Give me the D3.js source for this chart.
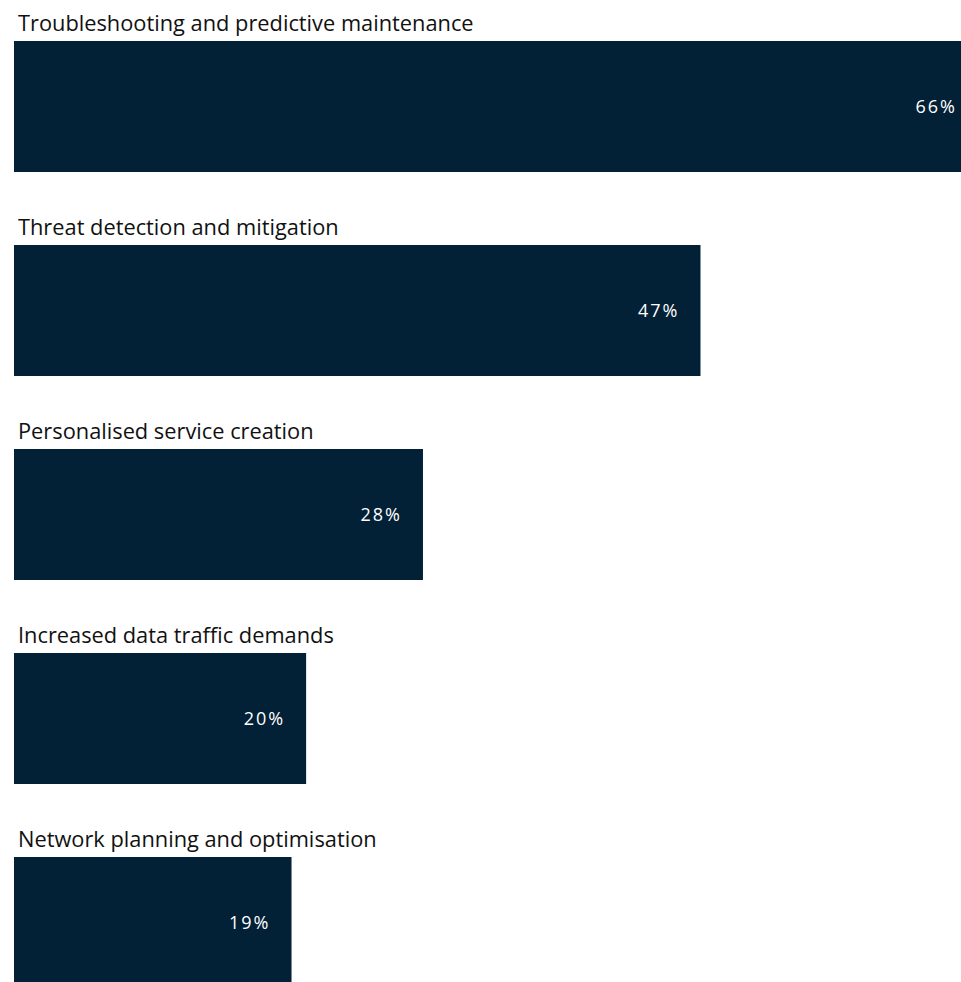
<!DOCTYPE html>
<html>
<head>
<meta charset="utf-8">
<script src="https://cdn.jsdelivr.net/npm/d3@7"></script>
<style>
  html, body { margin: 0; padding: 0; background: #ffffff; overflow: hidden; }
  svg { display: block; }
</style>
</head>
<body>
<svg id="chart" width="961" height="982"></svg>
<script>
// Use cases and the share of respondents selecting each
const categories = [
  "Troubleshooting and predictive maintenance",
  "Threat detection and mitigation",
  "Personalised service creation",
  "Increased data traffic demands",
  "Network planning and optimisation"
];
const values = [66, 47, 28, 20, 19];

const width = 961, height = 982;
const barLeft = 14;
const rowStep = 204, barTop = 41, barHeight = 131;

const svg = d3.select("#chart");

const x = d3.scaleLinear().domain([0, 66]).range([0, 964]);
const y = d3.scaleBand()
  .domain(categories)
  .range([0, rowStep * categories.length])
  .paddingInner(0).paddingOuter(0);

const rows = svg.selectAll("g.row")
  .data(categories.map((c, i) => ({ cat: c, val: values[i] })))
  .join("g")
  .attr("class", "row")
  .attr("transform", d => `translate(0,${y(d.cat)})`);

rows.append("text")
  .attr("x", 18)
  .attr("y", 30.5)
  .attr("fill", "#111111")
  .style("font-family", "'Open Sans', sans-serif")
  .style("font-size", "21.8px")
  .text(d => d.cat);

rows.append("rect")
  .attr("x", barLeft)
  .attr("y", barTop)
  .attr("width", d => x(d.val))
  .attr("height", barHeight)
  .attr("fill", "#022036");

rows.append("text")
  .attr("x", d => barLeft + x(d.val) - 21)
  .attr("y", barTop + barHeight / 2)
  .attr("dy", "0.36em")
  .attr("text-anchor", "end")
  .attr("fill", "#ffffff")
  .style("font-family", "'Open Sans', sans-serif")
  .style("font-size", "18px")
  .style("letter-spacing", "2px")
  .text(d => d.val + "%");
</script>
</body>
</html>
